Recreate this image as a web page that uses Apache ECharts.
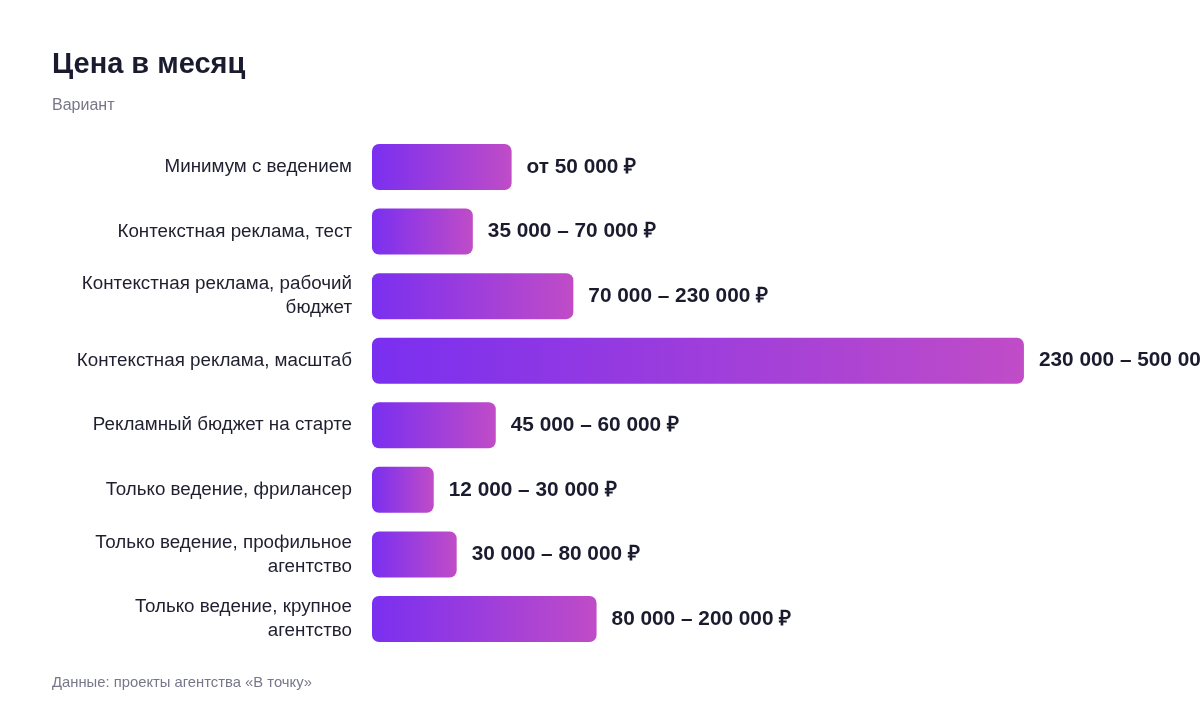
<!DOCTYPE html>
<html>
<head>
<meta charset="utf-8">
<script src="https://cdn.jsdelivr.net/npm/echarts@6/dist/echarts.min.js"></script>
<style>
  html, body { margin: 0; padding: 0; background: #fff; }
  #main { width: 1200px; height: 712px; }
</style>
</head>
<body>
<div id="main"></div>
<script>
var categories = [
    'Минимум с ведением',
    'Контекстная реклама, тест',
    'Контекстная реклама, рабочий\nбюджет',
    'Контекстная реклама, масштаб',
    'Рекламный бюджет на старте',
    'Только ведение, фрилансер',
    'Только ведение, профильное\nагентство',
    'Только ведение, крупное\nагентство'
];
// длина столбца, тыс. ₽ (условно)
var values = [49.3, 35.6, 71.1, 230.2, 43.7, 21.8, 29.9, 79.3];
var priceLabels = [
    'от 50 000 ₽',
    '35 000 – 70 000 ₽',
    '70 000 – 230 000 ₽',
    '230 000 – 500 000 ₽',
    '45 000 – 60 000 ₽',
    '12 000 – 30 000 ₽',
    '30 000 – 80 000 ₽',
    '80 000 – 200 000 ₽'
];

var chartDom = document.getElementById('main');
var myChart = echarts.init(chartDom);
var option;

var fontFam = 'Arial';

option = {
    backgroundColor: '#ffffff',
    textStyle: { fontFamily: fontFam },
    title: [
        {
            text: 'Цена в месяц',
            left: 47,
            top: 45,
            textStyle: { fontSize: 29, fontWeight: 'bold', color: '#1b1b2f', fontFamily: fontFam }
        },
        {
            text: 'Вариант',
            left: 47,
            top: 93,
            textStyle: { fontSize: 16, fontWeight: 'normal', color: '#77778a', fontFamily: fontFam }
        },
        {
            text: 'Данные: проекты агентства «В точку»',
            left: 47,
            top: 670,
            textStyle: { fontSize: 14.8, fontWeight: 'normal', color: '#77778a', fontFamily: fontFam }
        }
    ],
    grid: {
        left: 372,
        right: 120,
        top: 134.7,
        height: 516.6,
        containLabel: false
    },
    xAxis: {
        type: 'value',
        min: 0,
        max: 250,
        show: false
    },
    yAxis: {
        type: 'category',
        data: categories,
        inverse: true,
        axisLine: { show: false },
        axisTick: { show: false },
        splitLine: { show: false },
        axisLabel: {
            margin: 20,
            fontSize: 18.8,
            lineHeight: 24,
            color: '#1f1f30',
            fontFamily: fontFam,
            align: 'right'
        }
    },
    series: [
        {
            type: 'bar',
            data: values,
            barWidth: 46,
            itemStyle: {
                borderRadius: 7,
                color: new echarts.graphic.LinearGradient(0, 0, 1, 0, [
                    { offset: 0, color: '#7a2ff0' },
                    { offset: 1, color: '#c04cc7' }
                ])
            },
            label: {
                show: true,
                position: 'right',
                distance: 15,
                fontSize: 20.8,
                fontWeight: 'bold',
                fontFamily: fontFam,
                color: '#1b1b2f',
                formatter: function (p) {
                    return priceLabels[p.dataIndex];
                }
            },
            silent: true,
            animation: false
        }
    ]
};

option && myChart.setOption(option);
</script>
</body>
</html>
